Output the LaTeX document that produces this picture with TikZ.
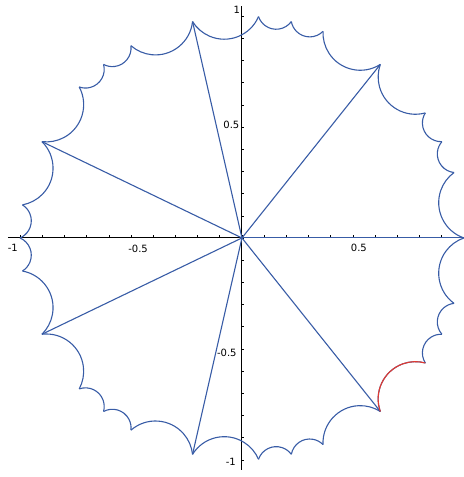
\documentclass[tikz,border=0pt]{standalone}
\usepackage{fontspec}
\setmainfont{DejaVu Sans}
\definecolor{geoblue}{RGB}{56,92,166}
\definecolor{geored}{RGB}{226,58,48}
\tikzset{every picture/.style={line width=.55pt},
 geodesic/.style={geoblue,line width=1.1pt},
 spoke/.style={geoblue,line width=1.1pt},
 axisline/.style={black,line width=1.1pt},
 tickmark/.style={black,line width=.5pt}}
% turning angle of every arc between two cusps
\newcommand{\sweep}{125}

\begin{document}
\begin{tikzpicture}[x=222pt,y=222pt,
 every node/.style={font=\fontsize{10}{12}\selectfont,inner sep=1pt}]
 \useasboundingbox (-1.090,-1.077) rectangle (1.0,1.072);

 % axes, a tick every 0.1
 \draw[axisline] (-1.054,0) -- (1.0,0);
 \draw[axisline] (0,-1.045) -- (0,1.045);
 \foreach \t in {-10,...,10}{
  \draw[tickmark] (\t/10,0) -- ++(0,2.5pt);
  \draw[tickmark] (0,\t/10) -- ++(2.5pt,0);
 }
 \node (xm1) at (-1.032,-.045) {-1};
 \node (xm5) at (-.468,-.050) {-0.5};
 \node (xp5) at (.527,-.045) {0.5};
 \node (yp1) at (-.023,1.027) {1};
 \node[anchor=east] (yp5) at (-.006,.509) {0.5};
 \node (ym5) at (-.068,-.518) {-0.5};
 \node (ym1) at (-.050,-1.009) {-1};

 % spokes to the seven vertices
 \coordinate (O) at (0,0);
 \foreach \k in {0,...,6}{
  \coordinate (v\k) at (\k*360/7:1);
  \draw[spoke] (O) -- (v\k);
 }

 % each side: four arcs, 1/3, 1/6, 1/6, 1/3 of the sector
 \foreach \k in {0,...,6}{
  \foreach \f/\g in {2/2,5/1,7/1,10/2}{
   \pgfmathsetmacro{\m}{\k*360/7+\f*30/7}
   \pgfmathsetmacro{\h}{\g*30/7}
   \draw[geodesic] ({\m-\h}:1)
    arc[start angle=\m+180+\sweep/2,delta angle=-\sweep,
        radius={sin(\h)/sin(\sweep/2)}];
  }
 }
 % the marked one
 \pgfmathsetmacro{\m}{6*360/7+60/7}
 \pgfmathsetmacro{\h}{60/7}
 \draw[geodesic,geored] ({\m-\h}:1)
  arc[start angle=\m+180+\sweep/2,delta angle=-\sweep,
      radius={sin(\h)/sin(\sweep/2)}];
\end{tikzpicture}
\end{document}
